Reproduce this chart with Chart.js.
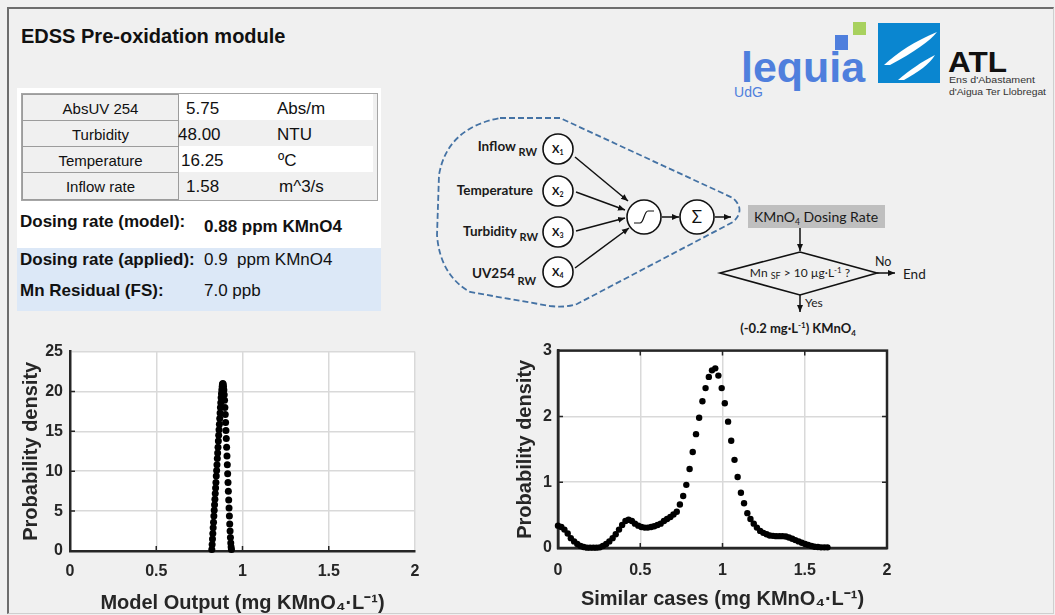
<!DOCTYPE html>
<html>
<head>
<meta charset="utf-8">
<title>EDSS Pre-oxidation module</title>
<script src="https://cdn.jsdelivr.net/npm/chart.js@4.4.0/dist/chart.umd.min.js"></script>
<style>
  body { margin: 0; width: 1055px; height: 615px; background: #f0f0f0; position: relative; overflow: hidden;
         font-family: "Liberation Sans", Arial, sans-serif; color: #111; }
  .abs { position: absolute; }
  .t { position: absolute; white-space: pre; line-height: 1; }
  .frame { left: 7px; top: 7px; width: 1047px; height: 607px; box-sizing: border-box;
           border-left: 2px solid #6d6d6d; border-top: 2px solid #6d6d6d;
           border-right: 1px solid #cfcfcf; border-bottom: 1px solid #cfcfcf; }
  .hdr { position: absolute; left: 22px; width: 157px; box-sizing: border-box; border: 1px solid #9c9c9c;
         background: #f0f0f0; font-size: 15px; text-align: center; }
  .val { font-size: 17px; }
  .bold { font-weight: bold; }
  canvas { position: absolute; }
</style>
</head>
<body>
<div class="abs frame"></div>
<div class="t bold" style="left:21px;top:26px;font-size:20px;">EDSS Pre-oxidation module</div>

<!-- input panel -->
<div class="abs" style="left:17px;top:88px;width:364px;height:160px;background:#fff;"></div>
<div class="abs" style="left:17px;top:248px;width:364px;height:63px;background:#dce8f7;"></div>
<div class="abs" style="left:21px;top:93px;width:357px;height:108px;box-sizing:border-box;border:1px solid #a6a6a6;background:#f0f0f0;"></div>
<div class="abs" style="left:179px;top:94px;width:194px;height:26px;background:#fff;"></div>
<div class="abs" style="left:179px;top:120px;width:194px;height:26px;background:#f0f0f0;"></div>
<div class="abs" style="left:179px;top:146px;width:194px;height:26px;background:#fff;"></div>
<div class="abs" style="left:179px;top:172px;width:194px;height:28px;background:#f0f0f0;"></div>
<div class="hdr" style="top:94px;height:27px;"></div>
<div class="hdr" style="top:120px;height:27px;"></div>
<div class="hdr" style="top:146px;height:27px;"></div>
<div class="hdr" style="top:172px;height:28px;"></div>
<div class="t" style="left:22px;width:157px;text-align:center;top:101px;font-size:15px;">AbsUV 254</div>
<div class="t" style="left:22px;width:157px;text-align:center;top:127px;font-size:15px;">Turbidity</div>
<div class="t" style="left:22px;width:157px;text-align:center;top:153px;font-size:15px;">Temperature</div>
<div class="t" style="left:22px;width:157px;text-align:center;top:179px;font-size:15px;">Inflow rate</div>
<div class="t val" style="left:186px;top:100px;">5.75</div>
<div class="t val" style="left:178px;top:126px;">48.00</div>
<div class="t val" style="left:181px;top:152px;">16.25</div>
<div class="t val" style="left:186px;top:178px;">1.58</div>
<div class="t val" style="left:277px;top:100px;">Abs/m</div>
<div class="t val" style="left:277px;top:126px;">NTU</div>
<div class="t val" style="left:278px;top:152px;">ºC</div>
<div class="t val" style="left:279px;top:178px;">m^3/s</div>

<div class="t bold" style="left:20px;top:213px;font-size:17px;">Dosing rate (model):</div>
<div class="t bold" style="left:204px;top:218px;font-size:17px;">0.88 ppm KMnO4</div>
<div class="t bold" style="left:20px;top:251px;font-size:17px;">Dosing rate (applied):</div>
<div class="t" style="left:204px;top:251px;font-size:17px;">0.9&nbsp; ppm KMnO4</div>
<div class="t bold" style="left:20px;top:282px;font-size:17px;">Mn Residual (FS):</div>
<div class="t" style="left:204px;top:282px;font-size:17px;">7.0 ppb</div>

<!-- logos and model diagram -->
<svg class="abs" style="left:0;top:0" width="1055" height="615" font-family="Lato, 'Open Sans', sans-serif">
  <defs>
    <marker id="ah" markerWidth="8" markerHeight="8" refX="7" refY="4" orient="auto" markerUnits="userSpaceOnUse">
      <path d="M0,1 L7,4 L0,7 Z" fill="#111"/>
    </marker>
  </defs>
  <!-- lequia UdG -->
  <rect x="835" y="35" width="13" height="15" fill="#4f7fdd"/>
  <rect x="853" y="22" width="13" height="13" fill="#a8d15e"/>
  <text x="741" y="82" font-family="Liberation Sans, Arial" font-weight="bold" font-size="43" fill="#4f7fdd" textLength="124" lengthAdjust="spacingAndGlyphs">lequia</text>
  <text x="734" y="97" font-family="Liberation Sans, Arial" font-size="14" fill="#4f7fdd" textLength="29" lengthAdjust="spacing">UdG</text>
  <!-- ATL -->
  <rect x="878" y="23" width="62" height="60" fill="#0a86d0"/>
  <path d="M884 65 C898 52 915 41 937 32 C930 41 914 52 890 65 Z" fill="#fff"/>
  <path d="M898 80 C910 70 921 62 935 55 C930 64 918 72 904 80 Z" fill="#fff"/>
  <text x="948" y="72" font-family="Liberation Sans, Arial" font-weight="bold" font-size="30" fill="#111" textLength="59" lengthAdjust="spacingAndGlyphs">ATL</text>
  <text x="949" y="83" font-family="Liberation Sans, Arial" font-size="9.5" fill="#333" textLength="86" lengthAdjust="spacingAndGlyphs">Ens d'Abastament</text>
  <text x="949" y="95" font-family="Liberation Sans, Arial" font-size="9.5" fill="#333" textLength="97" lengthAdjust="spacingAndGlyphs">d'Aigua Ter Llobregat</text>

  <!-- neural network -->
  <path d="M500 118 L560 118 L733 198 Q746 210 733 222 L577 304 Q565 308 550 306 L470 292 Q440 275 437 235 L439 175 Q447 128 500 118 Z"
        fill="none" stroke="#4472a4" stroke-width="1.8" stroke-dasharray="6 3"/>
  <g font-weight="bold" font-size="13.5" fill="#1a1a1a" text-anchor="end">
    <text x="537" y="151">Inflow<tspan font-size="11" dy="5"> RW</tspan></text>
    <text x="533" y="195">Temperature</text>
    <text x="538" y="236">Turbidity<tspan font-size="11" dy="5"> RW</tspan></text>
    <text x="536" y="278">UV254<tspan font-size="11" dy="7"> RW</tspan></text>
  </g>
  <g stroke="#111" stroke-width="1.6" fill="#fff">
    <circle cx="558" cy="149" r="15"/>
    <circle cx="558" cy="191" r="15"/>
    <circle cx="558" cy="232" r="15"/>
    <circle cx="558" cy="272" r="15"/>
    <circle cx="644" cy="217" r="17"/>
    <circle cx="697" cy="217" r="17"/>
  </g>
  <g font-size="11" fill="#111" font-weight="bold">
    <text x="552" y="153">X<tspan font-size="7" dy="2">1</tspan></text>
    <text x="552" y="195">X<tspan font-size="7" dy="2">2</tspan></text>
    <text x="552" y="236">X<tspan font-size="7" dy="2">3</tspan></text>
    <text x="552" y="276">X<tspan font-size="7" dy="2">4</tspan></text>
  </g>
  <path d="M634 223 L640 223 C644 223 644 211 648 211 L654 211" fill="none" stroke="#111" stroke-width="1.2"/>
  <text x="697" y="223" font-size="17" text-anchor="middle" fill="#111">Σ</text>
  <g stroke="#111" stroke-width="1.5" fill="none" marker-end="url(#ah)">
    <path d="M575 157 L628 201"/>
    <path d="M576 192 L625 210"/>
    <path d="M576 231 L625 218"/>
    <path d="M575 268 L629 228"/>
    <path d="M662 217 L679 217"/>
    <path d="M715 217 L731 217"/>
    <path d="M800 228 L800 251"/>
    <path d="M877 273 L895 273"/>
    <path d="M800 295 L800 312"/>
  </g>
  <rect x="748" y="205" width="137" height="23" fill="#bfbfbf"/>
  <text x="816" y="222" font-size="14" text-anchor="middle" fill="#1a1a1a">KMnO<tspan font-size="8.5" dy="3">4</tspan><tspan dy="-3"> Dosing Rate</tspan></text>
  <polygon points="720,273 800,252 877,273 800,295" fill="none" stroke="#111" stroke-width="1.6"/>
  <text x="800" y="277" font-size="12" text-anchor="middle" fill="#1a1a1a">Mn <tspan font-size="9" dy="2">SF</tspan><tspan dy="-2"> &gt; 10 µg·L</tspan><tspan font-size="8" dy="-4">-1</tspan><tspan dy="4"> ?</tspan></text>
  <text x="875" y="266" font-size="12.5" fill="#1a1a1a">No</text>
  <text x="903" y="279" font-size="13.5" fill="#1a1a1a">End</text>
  <text x="805" y="307" font-size="12" fill="#1a1a1a">Yes</text>
  <text x="798" y="333" font-size="13" font-weight="bold" text-anchor="middle" fill="#1a1a1a">(-0.2 mg·L<tspan font-size="8" dy="-5">-1</tspan><tspan dy="5">) KMnO</tspan><tspan font-size="8" dy="3">4</tspan></text>
</svg>

<canvas id="modelChart" width="440" height="280" style="left:0;top:335px;"></canvas>
<canvas id="casesChart" width="420" height="280" style="left:490px;top:335px;"></canvas>

<script>
// --- data ---
const xTicks = [0, 0.5, 1, 1.5, 2];
const modelYTicks = [0, 5, 10, 15, 20, 25];
const casesYTicks = [0, 1, 2, 3];

// model output density (narrow peak around 0.88)
const modelX = [0.822,0.824,0.826,0.828,0.830,0.832,0.834,0.836,0.838,0.840,0.842,0.844,0.846,0.848,0.850,
  0.852,0.854,0.856,0.858,0.860,0.862,0.864,0.866,0.868,0.870,0.872,0.874,0.876,0.878,0.880,0.882,0.884,0.886,
  0.888,0.890,0.892,0.894,0.896,0.898,0.900,0.902,0.904,0.906,0.908,0.910,0.912,0.914,0.916,0.918,0.920,0.922,
  0.924,0.926,0.928,0.930,0.932,0.934,0.936];
const modelY = [0.2,0.8,1.5,2.2,2.9,3.6,4.4,5.1,5.8,6.5,7.2,7.9,8.6,9.4,10.1,
  10.8,11.6,12.3,13.0,13.8,14.5,15.2,15.9,16.6,17.3,18.0,18.6,19.2,19.7,20.2,20.6,20.9,21.0,
  20.9,20.6,20.2,19.6,18.9,18.0,17.1,16.1,15.1,14.1,13.0,11.9,10.8,9.7,8.6,7.5,6.4,5.4,
  4.4,3.4,2.5,1.7,1.0,0.5,0.2];

// similar cases density
const casesX = [0.000,0.020,0.039,0.059,0.078,0.098,0.117,0.137,0.156,0.176,0.195,0.215,0.234,0.254,0.273,
  0.293,0.312,0.332,0.351,0.371,0.390,0.410,0.429,0.449,0.468,0.488,0.507,0.527,0.546,0.566,0.585,0.605,
  0.624,0.644,0.663,0.683,0.702,0.722,0.741,0.761,0.780,0.800,0.819,0.839,0.858,0.878,0.897,0.917,0.936,
  0.956,0.975,0.995,1.014,1.034,1.053,1.073,1.092,1.112,1.131,1.151,1.170,1.190,1.209,1.229,1.248,1.268,
  1.287,1.307,1.326,1.346,1.365,1.385,1.404,1.424,1.443,1.463,1.482,1.502,1.521,1.541,1.560,1.580,1.599,
  1.619,1.638];
const casesY = [0.34,0.32,0.28,0.22,0.15,0.10,0.06,0.03,0.015,0.005,0.005,0.005,0.005,0.01,0.03,
  0.06,0.10,0.15,0.21,0.28,0.35,0.41,0.43,0.41,0.37,0.34,0.32,0.31,0.31,0.32,0.33,0.35,
  0.37,0.41,0.44,0.47,0.51,0.55,0.66,0.79,0.96,1.20,1.46,1.73,1.98,2.23,2.43,2.60,2.70,
  2.73,2.62,2.43,2.20,1.92,1.63,1.34,1.08,0.84,0.68,0.53,0.44,0.37,0.31,0.26,0.23,0.21,
  0.19,0.185,0.18,0.18,0.18,0.175,0.16,0.14,0.12,0.10,0.08,0.06,0.045,0.03,0.02,0.015,0.01,
  0.01,0.01];

const FONT = '"Liberation Sans", Arial, sans-serif';
const INK = '#262626';
const GRID = '#d9d9d9';

// white axes background, inward tick marks and optional full box (MATLAB look)
const matlabAxes = {
  id: 'matlabAxes',
  beforeDraw(chart) {
    const {ctx, chartArea: a} = chart;
    ctx.save();
    ctx.fillStyle = '#ffffff';
    ctx.fillRect(a.left, a.top, a.right - a.left, a.bottom - a.top);
    ctx.restore();
  },
  beforeDatasetsDraw(chart, args, opts) {
    const {ctx, chartArea: a, scales: {x, y}} = chart;
    ctx.save();
    ctx.strokeStyle = INK;
    ctx.lineWidth = 1.5;
    ctx.beginPath();
    x.ticks.forEach(t => {
      const px = x.getPixelForValue(t.value);
      if (px <= a.left + 1 || px >= a.right - 1) return;
      ctx.moveTo(px, a.bottom); ctx.lineTo(px, a.bottom - 5);
      if (opts.box) { ctx.moveTo(px, a.top); ctx.lineTo(px, a.top + 5); }
    });
    y.ticks.forEach(t => {
      const py = y.getPixelForValue(t.value);
      if (py <= a.top + 1 || py >= a.bottom - 1) return;
      ctx.moveTo(a.left, py); ctx.lineTo(a.left + 5, py);
      if (opts.box) { ctx.moveTo(a.right, py); ctx.lineTo(a.right - 5, py); }
    });
    ctx.stroke();
    if (opts.box) {
      ctx.lineWidth = 2.5;
      ctx.strokeRect(a.left, a.top, a.right - a.left, a.bottom - a.top);
    }
    ctx.restore();
  }
};

function densityChart(id, xs, ys, cfg) {
  const points = xs.map((x, i) => ({x: x, y: ys[i]}));
  return new Chart(document.getElementById(id), {
    type: 'scatter',
    data: {
      datasets: [{
        data: points,
        backgroundColor: '#000',
        borderWidth: 0,
        pointRadius: cfg.radius,
        clip: false
      }]
    },
    options: {
      responsive: false,
      animation: false,
      devicePixelRatio: 1,
      layout: {padding: {top: cfg.top, right: cfg.right, left: 0, bottom: 0}},
      plugins: {
        legend: {display: false},
        tooltip: {enabled: false},
        matlabAxes: {box: cfg.box}
      },
      scales: {
        x: {
          type: 'linear', min: 0, max: 2,
          afterBuildTicks: s => { s.ticks = xTicks.map(v => ({value: v})); },
          afterFit: s => { s.height = cfg.xHeight; },
          grid: {color: GRID, lineWidth: 1.5, drawTicks: false},
          border: {display: true, color: INK, width: 2.5},
          ticks: {color: INK, padding: cfg.xPad, maxRotation: 0, callback: v => String(v),
                  font: {family: FONT, size: 16, weight: 'bold'}},
          title: {display: true, text: cfg.xTitle, color: INK, padding: {top: 0, bottom: cfg.xTitlePad},
                  font: {family: FONT, size: 20, weight: 'bold'}}
        },
        y: {
          type: 'linear', min: 0, max: cfg.yMax,
          afterBuildTicks: s => { s.ticks = cfg.yTicks.map(v => ({value: v})); },
          afterFit: s => { s.width = cfg.yWidth; },
          grid: {color: GRID, lineWidth: 1.5, drawTicks: false},
          border: {display: true, color: INK, width: 2.5},
          ticks: {color: INK, padding: cfg.yPad, callback: v => String(v),
                  font: {family: FONT, size: 16, weight: 'bold'}},
          title: {display: true, text: 'Probability density', color: INK, padding: {top: cfg.yTitlePad, bottom: 0},
                  font: {family: FONT, size: 20, weight: 'bold'}}
        }
      }
    },
    plugins: [matlabAxes]
  });
}

densityChart('modelChart', modelX, modelY, {
  radius: 3.5, box: false, yMax: 25, yTicks: modelYTicks,
  top: 14, right: 25, yWidth: 70, xHeight: 64,
  xPad: 11, yPad: 7, xTitlePad: 0, yTitlePad: 19,
  xTitle: 'Model Output (mg KMnO₄·L⁻¹)'
});

densityChart('casesChart', casesX, casesY, {
  radius: 3.2, box: true, yMax: 3, yTicks: casesYTicks,
  top: 12, right: 23, yWidth: 68, xHeight: 67,
  xPad: 13, yPad: 6, xTitlePad: 4, yTitlePad: 23,
  xTitle: 'Similar cases (mg KMnO₄·L⁻¹)'
});
</script>
</body>
</html>
